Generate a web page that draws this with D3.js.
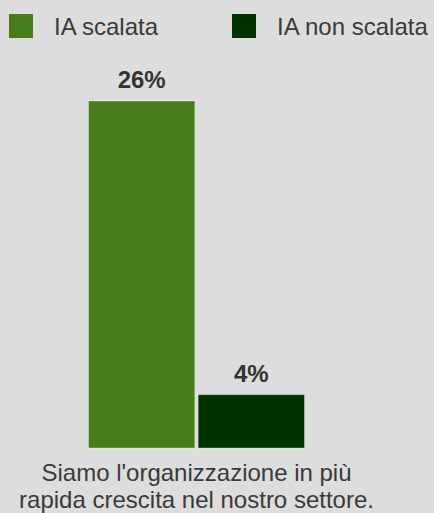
<!DOCTYPE html>
<html>
<head>
<meta charset="utf-8">
<script src="https://cdn.jsdelivr.net/npm/d3@7"></script>
<style>
  html, body { margin: 0; padding: 0; background: #dddddd; }
  svg { display: block; }
</style>
</head>
<body>
<script>
// chart data
var series = ["IA scalata", "IA non scalata"];
var values = [26, 4];
var colors = ["#477e1b", "#013300"];
var categoryLines = ["Siamo l'organizzazione in più", "rapida crescita nel nostro settore."];

var width = 434,
    height = 513;

var svg = d3.select("body").append("svg")
    .attr("width", width)
    .attr("height", height)
    .style("font-family", "'Liberation Sans', Arial, Helvetica, sans-serif");

svg.append("rect")
    .attr("width", width)
    .attr("height", height)
    .style("fill", "#dddddd");

// legend
var legend = svg.append("g")
    .selectAll("g")
    .data(series)
    .enter()
    .append("g")
    .attr("transform", function(d, i) { return "translate(" + (9 + i * 223) + ",14)"; });

legend.append("rect")
    .attr("width", 24)
    .attr("height", 24)
    .style("fill", function(d, i) { return colors[i]; });

legend.append("text")
    .attr("x", 45)
    .attr("y", 20.5)
    .text(function(d) { return d; })
    .style("fill", "#3a3a3a")
    .style("font-size", "24px");

// scales
var x = d3.scaleBand()
    .domain(series)
    .range([88.5, 304.5])
    .paddingInner(0.03);

var y = d3.scaleLinear()
    .domain([0, d3.max(values)])
    .range([448, 101]);

var bars = svg.append("g")
    .selectAll("g")
    .data(series)
    .enter()
    .append("g");

bars.append("rect")
    .attr("x", function(d) { return x(d); })
    .attr("y", function(d, i) { return y(values[i]); })
    .attr("width", x.bandwidth())
    .attr("height", function(d, i) { return y(0) - y(values[i]); })
    .style("fill", function(d, i) { return colors[i]; })
    .style("stroke", "rgba(255,255,255,0.35)")
    .style("stroke-width", "1px");

bars.append("text")
    .attr("x", function(d) { return x(d) + x.bandwidth() / 2; })
    .attr("y", function(d, i) { return y(values[i]) - 13; })
    .attr("text-anchor", "middle")
    .text(function(d, i) { return values[i] + "%"; })
    .style("fill", "#333333")
    .style("font-weight", "bold")
    .style("font-size", "24px");

// category label under the bars
var cx = (x.range()[0] + x.range()[1]) / 2;
svg.append("text")
    .attr("text-anchor", "middle")
    .style("fill", "#3a3a3a")
    .style("font-size", "24px")
    .selectAll("tspan")
    .data(categoryLines)
    .enter()
    .append("tspan")
    .attr("x", cx)
    .attr("y", function(d, i) { return 481 + i * 26.5; })
    .text(function(d) { return d; });
</script>
</body>
</html>
